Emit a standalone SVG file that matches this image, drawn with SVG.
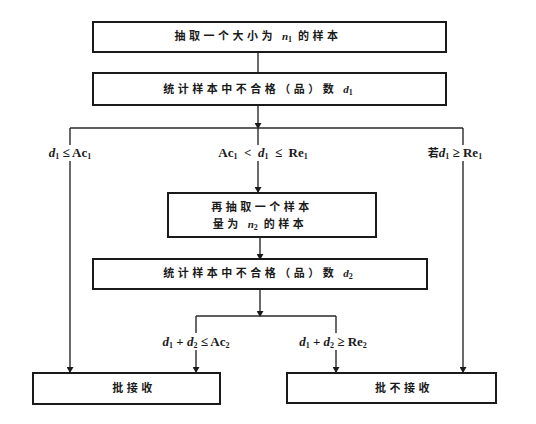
<svg xmlns="http://www.w3.org/2000/svg" width="536" height="424" viewBox="0 0 536 424">
<style>
.box{fill:#fff;stroke:#1a1a1a;stroke-width:2}
.ln{fill:none;stroke:#2a2a2a;stroke-width:1.4}
.t{font-family:"Noto Sans CJK SC",sans-serif;font-size:11px;font-weight:bold;fill:#1a1a1a;text-anchor:middle;letter-spacing:3.5px}
.m{font-family:"Liberation Serif",serif;font-size:13px;font-weight:bold;fill:#1a1a1a;text-anchor:middle}
.v{font-family:"Liberation Serif",serif;font-style:italic;font-weight:bold;letter-spacing:0}
.r{font-family:"Liberation Serif",serif;font-weight:bold;letter-spacing:0}
.s{font-size:8px;font-style:normal}
.k{font-family:"Noto Sans CJK SC",sans-serif;font-size:11px}
</style>
<defs>
<marker id="a" markerWidth="6" markerHeight="7" refX="5" refY="3.5" orient="auto" markerUnits="userSpaceOnUse"><path d="M0,0 L6,3.5 L0,7z" fill="#1a1a1a"/></marker>
</defs>
<g id="connectors">
<path class="ln" d="M258,52 V73"/>
<path class="ln" d="M258,105 V128" marker-end="url(#a)"/>
<path class="ln" d="M70,128 H463"/>
<path class="ln" d="M70,128 V145"/>
<path class="ln" d="M70,161 V372" marker-end="url(#a)"/>
<path class="ln" d="M258,128 V145"/>
<path class="ln" d="M258,161 V192" marker-end="url(#a)"/>
<path class="ln" d="M463,128 V145"/>
<path class="ln" d="M463,161 V372" marker-end="url(#a)"/>
<path class="ln" d="M260,237 V259" marker-end="url(#a)"/>
<path class="ln" d="M260,289 V316" marker-end="url(#a)"/>
<path class="ln" d="M196,316 H336"/>
<path class="ln" d="M196,316 V333"/>
<path class="ln" d="M196,350 V372" marker-end="url(#a)"/>
<path class="ln" d="M336,316 V333"/>
<path class="ln" d="M336,350 V372" marker-end="url(#a)"/>
</g>
<g id="labels">
<text class="m" x="70" y="157"><tspan class="v">d</tspan><tspan class="s" dy="2">1</tspan><tspan dy="-2"> ≤ Ac</tspan><tspan class="s" dy="2">1</tspan></text>
<text class="m" x="263" y="157">Ac<tspan class="s" dy="2">1</tspan><tspan dy="-2">&#160;&#160;&lt;&#160;&#160;</tspan><tspan class="v">d</tspan><tspan class="s" dy="2">1</tspan><tspan dy="-2">&#160;&#160;≤&#160;&#160;Re</tspan><tspan class="s" dy="2">1</tspan></text>
<text class="m" x="455" y="157"><tspan class="k">若</tspan><tspan class="v">d</tspan><tspan class="s" dy="2">1</tspan><tspan dy="-2"> ≥ Re</tspan><tspan class="s" dy="2">1</tspan></text>
<text class="m" x="196" y="346"><tspan class="v">d</tspan><tspan class="s" dy="2">1</tspan><tspan dy="-2"> + </tspan><tspan class="v">d</tspan><tspan class="s" dy="2">2</tspan><tspan dy="-2"> ≤ Ac</tspan><tspan class="s" dy="2">2</tspan></text>
<text class="m" x="333" y="346"><tspan class="v">d</tspan><tspan class="s" dy="2">1</tspan><tspan dy="-2"> + </tspan><tspan class="v">d</tspan><tspan class="s" dy="2">2</tspan><tspan dy="-2"> ≥ Re</tspan><tspan class="s" dy="2">2</tspan></text>
</g>
<g id="n1">
<rect class="box" x="93" y="22" width="353" height="30"/>
<text class="t" x="258" y="40">抽取一个大小为 <tspan class="v">n</tspan><tspan class="s r" dy="2">1</tspan><tspan dy="-2" style="letter-spacing:3.5px"> 的样本</tspan></text>
</g>
<g id="n2">
<rect class="box" x="93" y="73" width="353" height="32"/>
<text class="t" x="258" y="93">统计样本中不合格（品）数 <tspan class="v">d</tspan><tspan class="s r" dy="2">1</tspan></text>
</g>
<g id="n3">
<rect class="box" x="168" y="193" width="208" height="44"/>
<text class="t" x="262" y="211">再抽取一个样本</text>
<text class="t" x="260" y="228">量为 <tspan class="v">n</tspan><tspan class="s r" dy="2">2</tspan><tspan dy="-2" style="letter-spacing:3.5px"> 的样本</tspan></text>
</g>
<g id="n4">
<rect class="box" x="93" y="259" width="334" height="30"/>
<text class="t" x="258" y="277">统计样本中不合格（品）数 <tspan class="v">d</tspan><tspan class="s r" dy="2">2</tspan></text>
</g>
<g id="n5">
<rect class="box" x="33" y="373" width="187" height="31"/>
<text class="t" x="134" y="392">批接收</text>
</g>
<g id="n6">
<rect class="box" x="287" y="373" width="209" height="30"/>
<text class="t" x="404" y="392">批不接收</text>
</g>
</svg>
